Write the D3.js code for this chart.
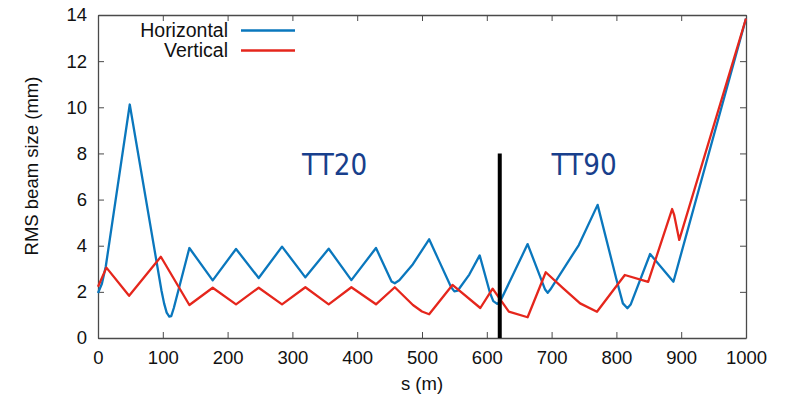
<!DOCTYPE html>
<html>
<head>
<meta charset="utf-8">
<script src="https://cdn.jsdelivr.net/npm/d3@7"></script>
<style>
  body { margin: 0; background: #fff; }
  svg { display: block; font-family: "Liberation Sans", Arial, sans-serif; }
  .axis path, .axis line { stroke: #4a4a4a; }
  .axis text { fill: #111; font-size: 18.5px; }
</style>
</head>
<body>
<svg id="chart" width="788" height="398"></svg>
<script>
// s (m) and RMS size (mm)
const horizS = [0, 6, 12, 49, 98, 102, 106, 110, 113, 117, 141, 177, 213, 248, 284, 320, 356, 391, 429, 453, 458, 465, 486, 511, 527, 545, 550, 555, 573, 589, 605, 610, 616, 621, 663, 690, 694, 698, 742, 771, 800, 810, 817, 822, 852, 888, 1000];
const horizV = [1.95, 2.35, 3.1, 10.12, 2.05, 1.5, 1.1, 0.93, 0.95, 1.3, 3.9, 2.5, 3.86, 2.6, 3.96, 2.63, 3.87, 2.51, 3.9, 2.45, 2.37, 2.5, 3.2, 4.28, 3.3, 2.2, 2.02, 2.05, 2.75, 3.58, 1.95, 1.6, 1.48, 1.6, 4.07, 2.1, 1.96, 2.1, 4.03, 5.77, 2.55, 1.5, 1.29, 1.45, 3.64, 2.44, 13.85];

const vertS = [0, 13, 48, 97, 141, 177, 213, 248, 284, 320, 356, 391, 429, 458, 486, 500, 511, 547, 590, 609, 634, 663, 691, 718, 744, 770, 813, 849, 886, 889, 897, 1000];
const vertV = [2.22, 3.05, 1.83, 3.52, 1.43, 2.18, 1.46, 2.18, 1.46, 2.2, 1.46, 2.2, 1.46, 2.2, 1.43, 1.15, 1.03, 2.3, 1.3, 2.14, 1.14, 0.9, 2.85, 2.15, 1.5, 1.14, 2.73, 2.43, 5.59, 5.35, 4.25, 13.85];

const xTicks = [0, 100, 200, 300, 400, 500, 600, 700, 800, 900, 1000];
const yTicks = [0, 2, 4, 6, 8, 10, 12, 14];

const seriesNames = ["Horizontal", "Vertical"];
const seriesColors = ["#0a77bd", "#e5261c"];

// boundary between the two lines
const boundaryS = 620;
const boundaryTop = 8;
const sectionLabels = [{name: "TT20", s: 315}, {name: "TT90", s: 700}];
const sectionLabelV = 7.05;

let chart = {
    "left": 98,
    "right": 746,
    "top": 15,
    "bottom": 338
};

let svg = d3.select('#chart');

let xScale = d3.scaleLinear()
    .domain([0, 1000])
    .range([chart.left, chart.right]);

let yScale = d3.scaleLinear()
    .domain([0, 14])
    .range([chart.bottom, chart.top]);

// Frame and ticks (gnuplot style, ticks pointing in, mirrored)
svg.append('g')
    .attr('class', 'axis')
    .attr('transform', `translate(0, ${chart.bottom})`)
    .call(d3.axisBottom(xScale).tickValues(xTicks).tickFormat(d3.format('d'))
        .tickSizeInner(-6).tickSizeOuter(0).tickPadding(13));

svg.append('g')
    .attr('class', 'axis')
    .attr('transform', `translate(0, ${chart.top})`)
    .call(d3.axisTop(xScale).tickValues(xTicks).tickSizeInner(-6).tickSizeOuter(0).tickFormat(''));

svg.append('g')
    .attr('class', 'axis')
    .attr('transform', `translate(${chart.left}, 0)`)
    .call(d3.axisLeft(yScale).tickValues(yTicks).tickSizeInner(-6).tickSizeOuter(0).tickPadding(11));

svg.append('g')
    .attr('class', 'axis')
    .attr('transform', `translate(${chart.right}, 0)`)
    .call(d3.axisRight(yScale).tickValues(yTicks).tickSizeInner(-6).tickSizeOuter(0).tickFormat(''));

svg.selectAll('.axis text').attr('font-family', '"Liberation Sans", Arial, sans-serif');
svg.selectAll('.axis path').attr('stroke-width', 1.3);

// Axis titles
svg.append('text')
    .attr('x', (chart.left + chart.right) / 2)
    .attr('y', 390)
    .attr('text-anchor', 'middle')
    .style('font-size', '18.5px')
    .attr('fill', '#111')
    .text('s (m)');

svg.append('text')
    .attr('transform', 'translate(38, 166) rotate(-90)')
    .attr('text-anchor', 'middle')
    .style('font-size', '18.5px')
    .attr('fill', '#111')
    .text('RMS beam size (mm)');

// Curves
let line = d3.line()
    .x(d => xScale(d[0]))
    .y(d => yScale(d[1]));

let series = [
    d3.zip(horizS, horizV),
    d3.zip(vertS, vertV)
];

svg.append('g')
    .selectAll('path')
    .data(series)
    .join('path')
        .attr('d', d => line(d))
        .attr('fill', 'none')
        .attr('stroke', (d, i) => seriesColors[i])
        .attr('stroke-width', 2.3)
        .attr('stroke-linejoin', 'round');

// Boundary marker
svg.append('line')
    .attr('x1', xScale(boundaryS))
    .attr('x2', xScale(boundaryS))
    .attr('y1', yScale(0))
    .attr('y2', yScale(boundaryTop))
    .attr('stroke', '#000')
    .attr('stroke-width', 4);

svg.append('g')
    .selectAll('text')
    .data(sectionLabels)
    .join('text')
        .attr('x', d => xScale(d.s))
        .attr('y', yScale(sectionLabelV))
        .attr('font-family', '"DejaVu Sans Condensed", "DejaVu Sans", sans-serif')
        .style('font-size', '31px')
        .attr('textLength', 65)
        .attr('lengthAdjust', 'spacingAndGlyphs')
        .attr('fill', '#183f8c')
        .text(d => d.name);

// Legend
let legend = svg.append('g')
    .selectAll('g')
    .data(seriesNames)
    .join('g')
        .attr('transform', (d, i) => `translate(0, ${30.5 + i * 20})`);

legend.append('text')
    .attr('x', 228)
    .attr('dy', '0.35em')
    .attr('text-anchor', 'end')
    .style('font-size', '19.5px')
    .attr('fill', '#111')
    .text(d => d);

legend.append('line')
    .attr('x1', 241)
    .attr('x2', 295)
    .attr('stroke', (d, i) => seriesColors[i])
    .attr('stroke-width', 2.3);
</script>
</body>
</html>
